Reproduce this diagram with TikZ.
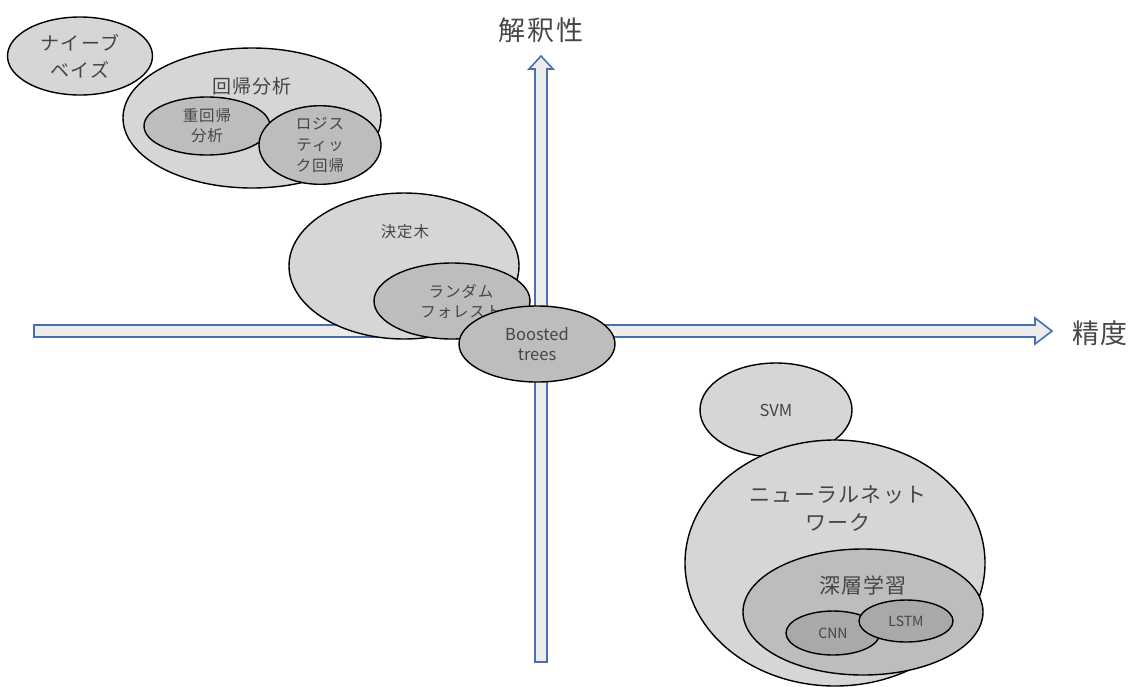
\documentclass[tikz,border=0pt]{standalone}
\usepackage{fontspec}
\setmainfont{Noto Sans CJK JP}[LetterSpace=6]
\newfontfamily\latinf{Noto Sans CJK JP}
\usetikzlibrary{shapes.geometric}
\definecolor{axisblue}{HTML}{4A6FB0}
\definecolor{axisfill}{HTML}{ECECEC}
\definecolor{lightg}{HTML}{D6D6D6}
\definecolor{midg}{HTML}{BDBDBD}
\definecolor{darkg}{HTML}{A9A9A9}
\definecolor{txt}{HTML}{454545}
\tikzset{
  axisshape/.style={draw=axisblue, fill=axisfill, line width=1.6pt, line join=miter},
  blob/.style={ellipse, draw=black, line width=1.4pt, inner sep=0pt, text=txt, align=center},
  lvl1/.style={blob, fill=lightg},
  lvl2/.style={blob, fill=midg},
  lvl3/.style={blob, fill=darkg},
  lbl/.style={text=txt, align=center, inner sep=0pt},
}
\newcommand{\fs}[2]{\fontsize{#1}{#2}\selectfont}
\begin{document}
\begin{tikzpicture}[x=1pt, y=-1pt]
\useasboundingbox (0,0) rectangle (1134,686);
% axes
\draw[axisshape] (34,325) -- (1035,325) -- (1035,318) -- (1052,331) -- (1035,344) -- (1035,337) -- (34,337) -- cycle;
\draw[axisshape] (535,662) -- (535,69) -- (529,69) -- (541,56) -- (553,69) -- (547,69) -- (547,662) -- cycle;
\node[lbl, font=\fs{27}{30}] (yl) at (541,30) {解釈性};
\node[lbl, font=\fs{27}{30}] (xl) at (1100,333) {精度};
% top-left
\node[lvl1, minimum width=145pt, minimum height=78pt, font=\fs{19}{27}] (nb) at (80,56) {ナイーブ\\ベイズ};
\node[lvl1, minimum width=258pt, minimum height=140pt] (reg) at (252,118) {};
\node[lbl, font=\fs{19}{22}] (regl) at (252,86) {回帰分析};
\node[lvl2, minimum width=126pt, minimum height=58pt, font=\fs{15.5}{20}] (mreg) at (207,126) {重回帰\\分析};
\node[lvl2, minimum width=122pt, minimum height=64pt, font=\fs{15.5}{21}] (logi) at (320,145) {ロジス\\ティッ\\ク回帰};
% center
\node[lvl1, minimum width=230pt, minimum height=146pt] (dt) at (404,266) {};
\node[lbl, font=\fs{15.5}{20}] (dtl) at (405,232) {決定木};
\node[lvl2, minimum width=156pt, minimum height=76pt] (rf) at (452,301) {};
\node[lbl, font=\fs{15.5}{20}] (rfl) at (461,301) {ランダム\\フォレスト};
\node[lvl2, minimum width=156pt, minimum height=76pt, font=\latinf\fs{16.5}{20}] (bt) at (537,344) {Boosted\\trees};
% bottom-right
\node[lvl1, minimum width=152pt, minimum height=94pt, font=\latinf\fs{16.5}{20}] (svm) at (776,410) {SVM};
\node[lvl1, minimum width=300pt, minimum height=246pt] (nn) at (835,563) {};
\node[lbl, font=\fs{21}{28}] (nnl) at (838,509) {ニューラルネット\\ワーク};
\node[lvl2, minimum width=240pt, minimum height=126pt] (dl) at (863,612) {};
\node[lbl, font=\fs{21}{24}] (dll) at (863,585) {深層学習};
\node[lvl3, minimum width=94pt, minimum height=44pt, font=\latinf\fs{14}{18}] (cnn) at (833,633) {CNN};
\node[lvl3, minimum width=94pt, minimum height=42pt, font=\latinf\fs{14}{18}] (lstm) at (906,621) {LSTM};
\end{tikzpicture}
\end{document}
